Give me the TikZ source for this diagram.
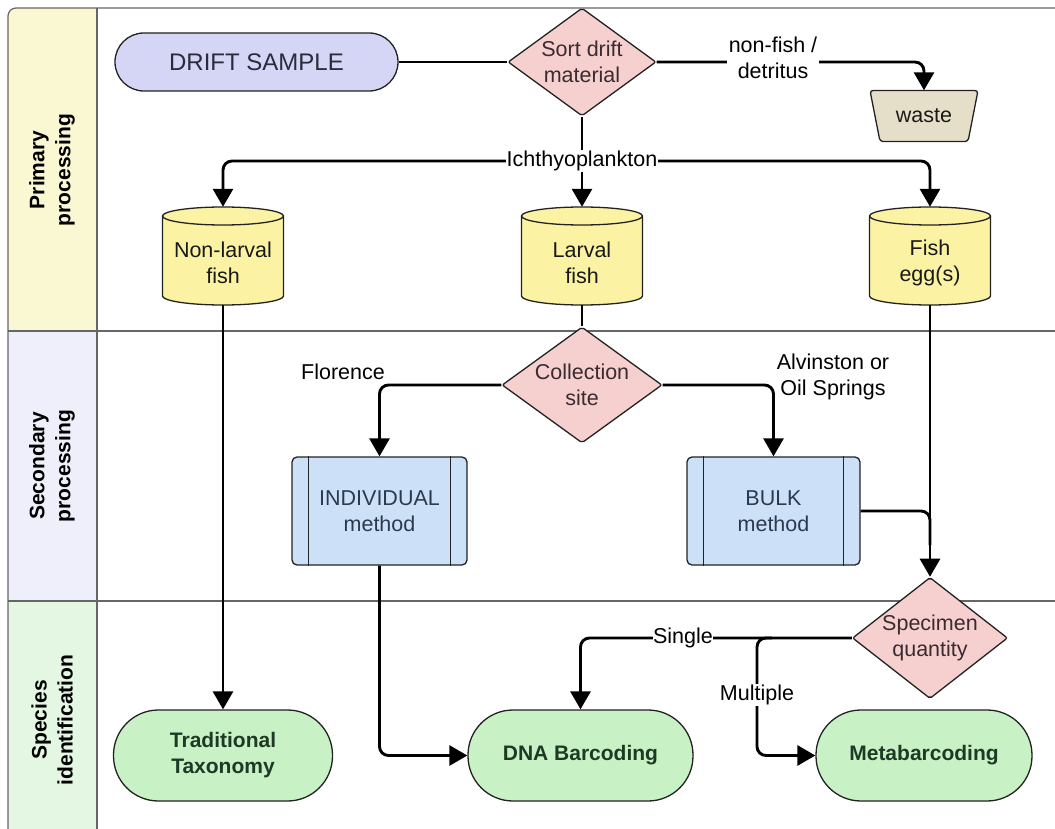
\documentclass[tikz,border=0pt]{standalone}
\usepackage{fontspec}
\setmainfont{Liberation Sans}
\usetikzlibrary{arrows.meta,shapes.geometric,calc}
\definecolor{framegray}{HTML}{666666}
\definecolor{primf}{HTML}{FAF8D2}
\definecolor{secf}{HTML}{EFEFFB}
\definecolor{specf}{HTML}{E4F7E2}
\definecolor{driftf}{HTML}{D5D6F6}
\definecolor{pinkf}{HTML}{F6CFCF}
\definecolor{cylfill}{HTML}{FBF3A3}
\definecolor{wastef}{HTML}{E5DFC9}
\definecolor{procf}{HTML}{CCE0F7}
\definecolor{greenf}{HTML}{C8F2C6}
\definecolor{shapeline}{HTML}{222222}
\definecolor{diatext}{HTML}{3A2B30}
\definecolor{drifttxt}{HTML}{2B2B3B}
\definecolor{proctxt}{HTML}{2C3A4E}
\definecolor{greentxt}{HTML}{1F3A24}
\newcommand\cylnode[3]{%
  \path[cylf] ({#2-60.5},-216) -- ({#2-60.5},-296) arc[start angle=180,end angle=360,x radius=60.5,y radius=9] -- ({#2+60.5},-216) arc[start angle=0,end angle=180,x radius=60.5,y radius=9] -- cycle;
  \draw[cylf,fill=none] ({#2-60.5},-216) arc[start angle=180,end angle=360,x radius=60.5,y radius=9];
  \node[cylbox] (#1) at (#2,-256) {};
  \node[cyltxt] (#1t) at (#2,-263) {#3};
}
\begin{document}
\begin{tikzpicture}[x=1pt,y=1pt,
  font=\fontsize{21.5}{26.5}\selectfont,
  frame/.style={draw=framegray,line width=1.2pt},
  conn/.style={draw=black,line width=2.9pt,rounded corners=9pt},
  arr/.style={conn,-{Triangle[width=20pt,length=18pt]}},
  lbl/.style={fill=white,inner sep=1.5pt,align=center},
  lanelbl/.style={rotate=90,align=center,font=\fontsize{21}{26}\selectfont\bfseries},
  dia/.style={diamond,draw=shapeline,fill=pinkf,line width=1.3pt,inner sep=0pt,align=center,text=diatext,rounded corners=2pt},
  cylf/.style={draw=shapeline,fill=cylfill,line width=1.3pt},
  cylbox/.style={minimum width=121pt,minimum height=98pt,inner sep=0pt},
  cyltxt/.style={align=center,text=black!90},
  proc/.style={draw=shapeline,fill=procf,line width=1.3pt,rounded corners=5pt,minimum height=108pt,align=center,text=proctxt},
  procline/.style={draw=shapeline,line width=1.3pt},
  term/.style={draw=shapeline,fill=greenf,line width=1.3pt,rounded corners=45pt,minimum height=91pt,align=center,text=greentxt,font=\fontsize{21}{26}\selectfont\bfseries}
]
\useasboundingbox (0,0) rectangle (1055,-829);
% lane label fills
\fill[primf] (8,-331) -- (8,-16) arc[start angle=180,end angle=90,radius=8] -- (97,-8) -- (97,-331) -- cycle;
\fill[secf] (8,-331) rectangle (97,-601);
\fill[specf] (8,-601) rectangle (97,-829);
% frame
\draw[frame] (8,-829) -- (8,-16) arc[start angle=180,end angle=90,radius=8] -- (1055,-8);
\draw[frame] (97,-8) -- (97,-829);
\draw[frame] (8,-331) -- (1055,-331);
\draw[frame] (8,-601) -- (1055,-601);
\node[lanelbl] (lane1) at (52,-170) {Primary\\processing};
\node[lanelbl] (lane2) at (52,-466) {Secondary\\processing};
\node[lanelbl] (lane3) at (52,-720) {Species\\identification};

% nodes
\node[draw=shapeline,fill=driftf,line width=1.3pt,minimum width=283pt,minimum height=58pt,rounded corners=28.9pt,text=drifttxt,font=\fontsize{24}{28}\selectfont] (drift) at (256.5,-62) {DRIFT SAMPLE};
\node[dia,minimum width=148pt,minimum height=108pt,aspect=1.37] (sort) at (582,-62) {Sort drift\\material};
\path[draw=shapeline,fill=wastef,line width=1.3pt,rounded corners=3pt] (870,-90.5) -- (978,-90.5) -- (968,-141.5) -- (880,-141.5) -- cycle;
\node[minimum width=108pt,minimum height=51pt,inner sep=0pt,text=black!90] (waste) at (924,-116) {waste};

\cylnode{nl}{223}{Non-larval\\fish}
\cylnode{lf}{582}{Larval\\fish}
\cylnode{fe}{930}{Fish\\egg(s)}

\node[dia,minimum width=160pt,minimum height=116pt,aspect=1.38] (coll) at (582,-385) {Collection\\site};
\node[proc,minimum width=175pt] (ind) at (379.5,-511) {INDIVIDUAL\\method};
\draw[procline] ($(ind.north west)+(17,0)$) -- ($(ind.south west)+(17,0)$);
\draw[procline] ($(ind.north east)+(-17,0)$) -- ($(ind.south east)+(-17,0)$);
\node[proc,minimum width=173pt] (bulk) at (773.5,-511) {BULK\\method};
\draw[procline] ($(bulk.north west)+(17,0)$) -- ($(bulk.south west)+(17,0)$);
\draw[procline] ($(bulk.north east)+(-17,0)$) -- ($(bulk.south east)+(-17,0)$);
\node[dia,minimum width=154pt,minimum height=120pt,aspect=1.28] (spec) at (930,-638) {Specimen\\quantity};

\node[term,minimum width=219pt] (tt) at (223,-755.5) {Traditional\\Taxonomy};
\node[term,minimum width=225pt] (dna) at (580.5,-755.5) {DNA Barcoding};
\node[term,minimum width=216pt] (meta) at (924,-755.5) {Metabarcoding};

% connectors
\draw[conn] (drift.east) -- (sort.west);
\draw[arr] (sort.east) -| (waste.north);
\node[lbl] (nfl) at (773,-58) {non-fish /\\detritus};

\coordinate (ich) at (582,-161);
\draw[arr] (sort.south) -- (lf.north);
\draw[arr] (ich) -| (nl.north);
\draw[arr] (ich) -| (fe.north);
\node[lbl,inner sep=0.5pt] (ichl) at (ich) {Ichthyoplankton};

\draw[arr] (nl.south) -- (tt.north);
\draw[conn] (lf.south) -- (coll.north);
\draw[arr] (coll.west) -| (ind.north);
\node[lbl,fill=none] (flor) at (343,-372) {Florence};
\draw[arr] (coll.east) -| (bulk.north);
\node[lbl,fill=none] (alv) at (833,-377) {Alvinston or\\Oil Springs};

\draw[arr] (ind.south) |- (dna.west);
\coordinate (bj) at (930,-545);
\draw[conn] (bulk.east) -| (bj);
\draw[arr] (fe.south) -- (spec.north);

\draw[arr] (spec.west) -| (dna.north);
\node[lbl,inner sep=0.5pt] (single) at (683,-638) {Single};
\coordinate (mj0) at (772,-638);
\coordinate (mj) at (757,-638);
\draw[arr] (mj0) -- (mj) |- (meta.west);
\node[lbl,inner sep=0.5pt] (mult) at (757,-695) {Multiple};
\end{tikzpicture}
\end{document}
